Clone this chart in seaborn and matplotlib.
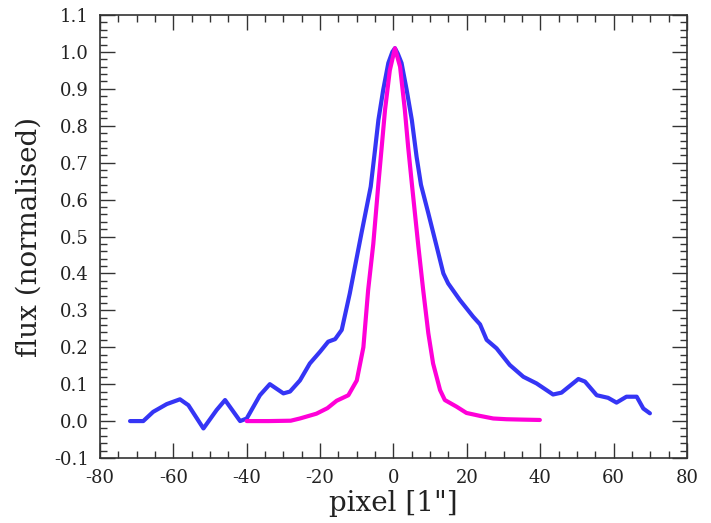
import matplotlib
matplotlib.use("Agg")
import matplotlib.pyplot as plt
from matplotlib.ticker import MultipleLocator
import pandas as pd
import seaborn as sns

# blue profile (observed)
blue_x = [-71.8, -68.2, -65.5, -61.8, -58.2, -55.9, -51.8, -48.2, -45.9, -41.8,
          -40.0, -36.4, -33.7, -30.0, -28.2, -25.5, -22.8, -20.0, -17.8, -15.9,
          -14.1, -13.7, -11.9, -10.5, -8.7, -7.3, -6.2, -5.2, -4.1, -2.8, -1.4,
          -0.3, 0.4, 1.2, 2.2, 3.6, 5.0, 6.3, 7.5, 9.5, 11.8, 13.6, 14.9, 18.1, 21.7, 23.6,
          25.4, 28.1, 31.7, 35.4, 39.0, 43.5, 45.8, 50.4, 52.2, 55.4, 58.5, 60.8,
          63.5, 66.3, 68.1, 69.9]
blue_y = [0.0, 0.0, 0.025, 0.046, 0.059, 0.043, -0.02, 0.03, 0.057, 0.0,
          0.007, 0.07, 0.10, 0.075, 0.08, 0.11, 0.156, 0.188, 0.215, 0.222,
          0.247, 0.265, 0.346, 0.418, 0.51, 0.58, 0.635, 0.72, 0.816, 0.897, 0.97,
          1.0, 1.01, 0.995, 0.97, 0.897, 0.816, 0.716, 0.64, 0.563, 0.472, 0.40, 0.373, 0.328, 0.283, 0.262,
          0.22, 0.197, 0.152, 0.12, 0.102, 0.072, 0.077, 0.114, 0.107, 0.07, 0.063, 0.05,
          0.066, 0.066, 0.034, 0.021]

# magenta profile (model)
mag_x = [-40.0, -34.0, -28.0, -25.5, -21.0, -18.0, -15.5, -12.3, -10.0, -8.2,
         -6.9, -5.5, -4.1, -3.2, -2.3, -1.0, 0.4, 1.8, 3.1, 4.0, 5.0,
         6.8, 8.1, 9.5, 10.8, 12.7, 14.0, 17.2, 19.9, 23.6, 27.2, 30.8,
         35.0, 39.9]
mag_y = [0.0, 0.0, 0.001, 0.007, 0.02, 0.035, 0.055, 0.07, 0.11, 0.2,
         0.355, 0.48, 0.644, 0.743, 0.843, 0.95, 1.01, 0.96, 0.843, 0.743, 0.644,
         0.472, 0.355, 0.238, 0.156, 0.084, 0.057, 0.039, 0.022, 0.014, 0.007, 0.005,
         0.004, 0.003]

sns.set_theme(style="ticks")
plt.rcParams['font.family'] = ['DejaVu Serif']
plt.rcParams['axes.unicode_minus'] = False

fig = plt.figure(figsize=(7.11, 5.23), dpi=100)
ax = fig.add_axes([0.1406, 0.1243, 0.8256, 0.847])

blue = pd.DataFrame({"x": blue_x, "y": blue_y})
mag = pd.DataFrame({"x": mag_x, "y": mag_y})
sns.lineplot(data=blue, x="x", y="y", sort=False, color="#3535f5", lw=3, ax=ax)
sns.lineplot(data=mag, x="x", y="y", sort=False, color="#ff00d8", lw=3, ax=ax)

ax.set_xlim(-80, 80)
ax.set_ylim(-0.1, 1.1)
ax.xaxis.set_major_locator(MultipleLocator(20))
ax.xaxis.set_minor_locator(MultipleLocator(5))
ax.yaxis.set_minor_locator(MultipleLocator(0.02))
ax.set_yticks([round(-0.1 + 0.1 * i, 1) for i in range(13)])
ax.set_yticklabels([f"{-0.1 + 0.1 * i:.1f}" for i in range(13)])

ax.tick_params(which="both", direction="in", top=True, right=True,
               colors="#333333", labelcolor="#222222", labelsize=13, pad=8)
ax.tick_params(which="major", length=11, width=1)
ax.tick_params(which="minor", length=5, width=1)
for s in ax.spines.values():
    s.set_color("#333333")
    s.set_linewidth(1.2)

ax.set_xlabel('pixel [1"]', fontsize=20, color="#222222", labelpad=2)
ax.set_ylabel("flux (normalised)", fontsize=20, color="#222222", labelpad=8)

fig.savefig("out.png", dpi=100)
